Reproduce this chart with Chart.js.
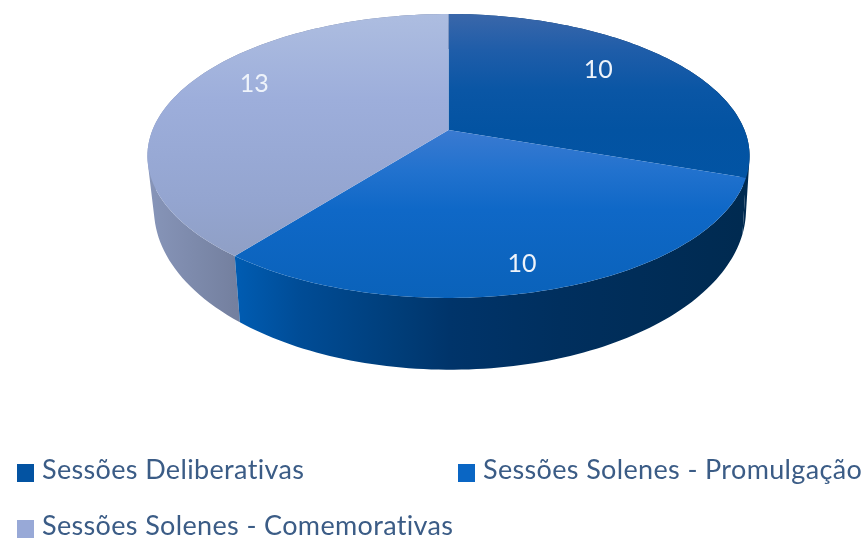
<!DOCTYPE html>
<html>
<head>
<meta charset="utf-8">
<title>Sessões</title>
<script src="https://cdn.jsdelivr.net/npm/chart.js@4"></script>
<style>
  html, body { margin: 0; padding: 0; background: #fff; overflow: hidden; }
  canvas { display: block; }
</style>
</head>
<body>
<canvas id="pie-chart" width="866" height="539"></canvas>
<script>
var categories = ["Sessões Deliberativas", "Sessões Solenes - Promulgação", "Sessões Solenes - Comemorativas"];
var sessionCounts = [10, 10, 13];

// base colour of each slice, also used for the legend squares
var sliceColors = ["#0353A2", "#0A66C4", "#98A9D7"];

// top face shading, [y, colour]
var topShades = [
  [[14, "#3A67AA"], [50, "#1F5DA9"], [90, "#0A56A5"], [130, "#0353A2"], [180, "#0254A4"]],
  [[130, "#3A7AD1"], [170, "#2272CE"], [210, "#0F68C7"], [298, "#0A62BA"]],
  [[14, "#ADBDE0"], [100, "#9DAEDB"], [200, "#94A5D0"], [258, "#8F9FC5"]]
];
// side wall shading, [x, colour]
var wallShades = [
  [[448, "#003A74"], [750, "#002A50"]],
  [[236, "#005CB2"], [300, "#004C96"], [400, "#003D78"], [450, "#00346A"], [560, "#002F5E"], [750, "#002A50"]],
  [[148, "#8795B9"], [236, "#74809F"]]
];

// tilted disc: top plane and bottom plane of the pie
var topPlane = { x: 448.5, y: 130, a: 296, b: 137.2, k: -0.183 };
var bottomPlane = { x: 450, y: 180, a: 291, b: 155, k: -0.183 };

// where each value sits on its slice: turn from the middle angle, share of radius
var labelSpots = [[-6, 0.735], [2, 0.85], [8.5, 0.79]];

function project(plane, angle, r) {
  var u = Math.cos(angle) * r;
  var v = Math.sin(angle) * r;
  var w = 1 + plane.k * v;
  return { x: plane.x + plane.a * u / w, y: plane.y + plane.b * v / w };
}

function gradient(ctx, shades, horizontal) {
  var first = shades[0][0];
  var last = shades[shades.length - 1][0];
  var g = horizontal
    ? ctx.createLinearGradient(first, 0, last, 0)
    : ctx.createLinearGradient(0, first, 0, last);
  shades.forEach(function (s) {
    g.addColorStop((s[0] - first) / (last - first), s[1]);
  });
  return g;
}

function arcPath(ctx, plane, from, to) {
  var steps = 90;
  for (var i = 0; i <= steps; i++) {
    var p = project(plane, from + (to - from) * i / steps, 1);
    ctx.lineTo(p.x, p.y);
  }
}

// wall of one slice as one quad per step, all wound the same way so the
// fill also covers the corner between the two rims at the sides
function wallPath(ctx, from, to) {
  var steps = 90;
  for (var i = 0; i < steps; i++) {
    var a0 = from + (to - from) * i / steps;
    var a1 = from + (to - from) * (i + 1) / steps;
    var q = [project(topPlane, a0, 1), project(topPlane, a1, 1), project(bottomPlane, a1, 1), project(bottomPlane, a0, 1)];
    var area = 0;
    for (var j = 0; j < 4; j++) {
      var n = q[(j + 1) % 4];
      area += q[j].x * n.y - n.x * q[j].y;
    }
    if (area < 0) q.reverse();
    ctx.moveTo(q[0].x, q[0].y);
    ctx.lineTo(q[1].x, q[1].y);
    ctx.lineTo(q[2].x, q[2].y);
    ctx.lineTo(q[3].x, q[3].y);
    ctx.closePath();
  }
}

var tiltedPie = {
  id: 'tiltedPie',
  beforeDatasetDraw: function (chart, args) {
    var ctx = chart.ctx;
    var arcs = chart.getDatasetMeta(args.index).data;

    ctx.save();
    // walls first, the front slice last
    [0, 2, 1].forEach(function (i) {
      var arc = arcs[i];
      ctx.beginPath();
      wallPath(ctx, arc.startAngle, arc.endAngle);
      ctx.fillStyle = gradient(ctx, wallShades[i], true);
      ctx.fill();
    });

    // top faces
    arcs.forEach(function (arc, i) {
      ctx.beginPath();
      ctx.moveTo(topPlane.x, topPlane.y);
      arcPath(ctx, topPlane, arc.startAngle, arc.endAngle);
      ctx.closePath();
      ctx.fillStyle = gradient(ctx, topShades[i], false);
      ctx.fill();
    });

    // values
    ctx.font = '25px Lato';
    ctx.fillStyle = '#EEF3FA';
    ctx.textAlign = 'center';
    ctx.textBaseline = 'middle';
    arcs.forEach(function (arc, i) {
      var mid = (arc.startAngle + arc.endAngle) / 2 + labelSpots[i][0] * Math.PI / 180;
      var p = project(topPlane, mid, labelSpots[i][1]);
      ctx.fillText(chart.data.datasets[args.index].data[i], p.x, p.y + 1);
    });
    ctx.restore();
    return false;
  },
  afterDraw: function (chart) {
    var ctx = chart.ctx;
    var spots = [[17, 464], [458, 464], [17, 520]];
    ctx.save();
    ctx.font = '27px Lato';
    ctx.letterSpacing = '0.35px';
    ctx.textAlign = 'left';
    ctx.textBaseline = 'alphabetic';
    chart.data.labels.forEach(function (label, i) {
      var x = spots[i][0], y = spots[i][1];
      ctx.fillStyle = chart.data.datasets[0].backgroundColor[i];
      ctx.fillRect(x, y, 17, 18);
      ctx.fillStyle = '#3B5C86';
      ctx.fillText(label, x + 25, y + 15);
    });
    ctx.restore();
  }
};

new Chart(document.getElementById("pie-chart"), {
  type: 'pie',
  data: {
    labels: categories,
    datasets: [
      {
        data: sessionCounts,
        backgroundColor: sliceColors,
        borderWidth: 0
      }
    ]
  },
  options: {
    responsive: false,
    animation: false,
    plugins: {
      legend: { display: false },
      tooltip: { enabled: false }
    }
  },
  plugins: [tiltedPie]
});
</script>
</body>
</html>
